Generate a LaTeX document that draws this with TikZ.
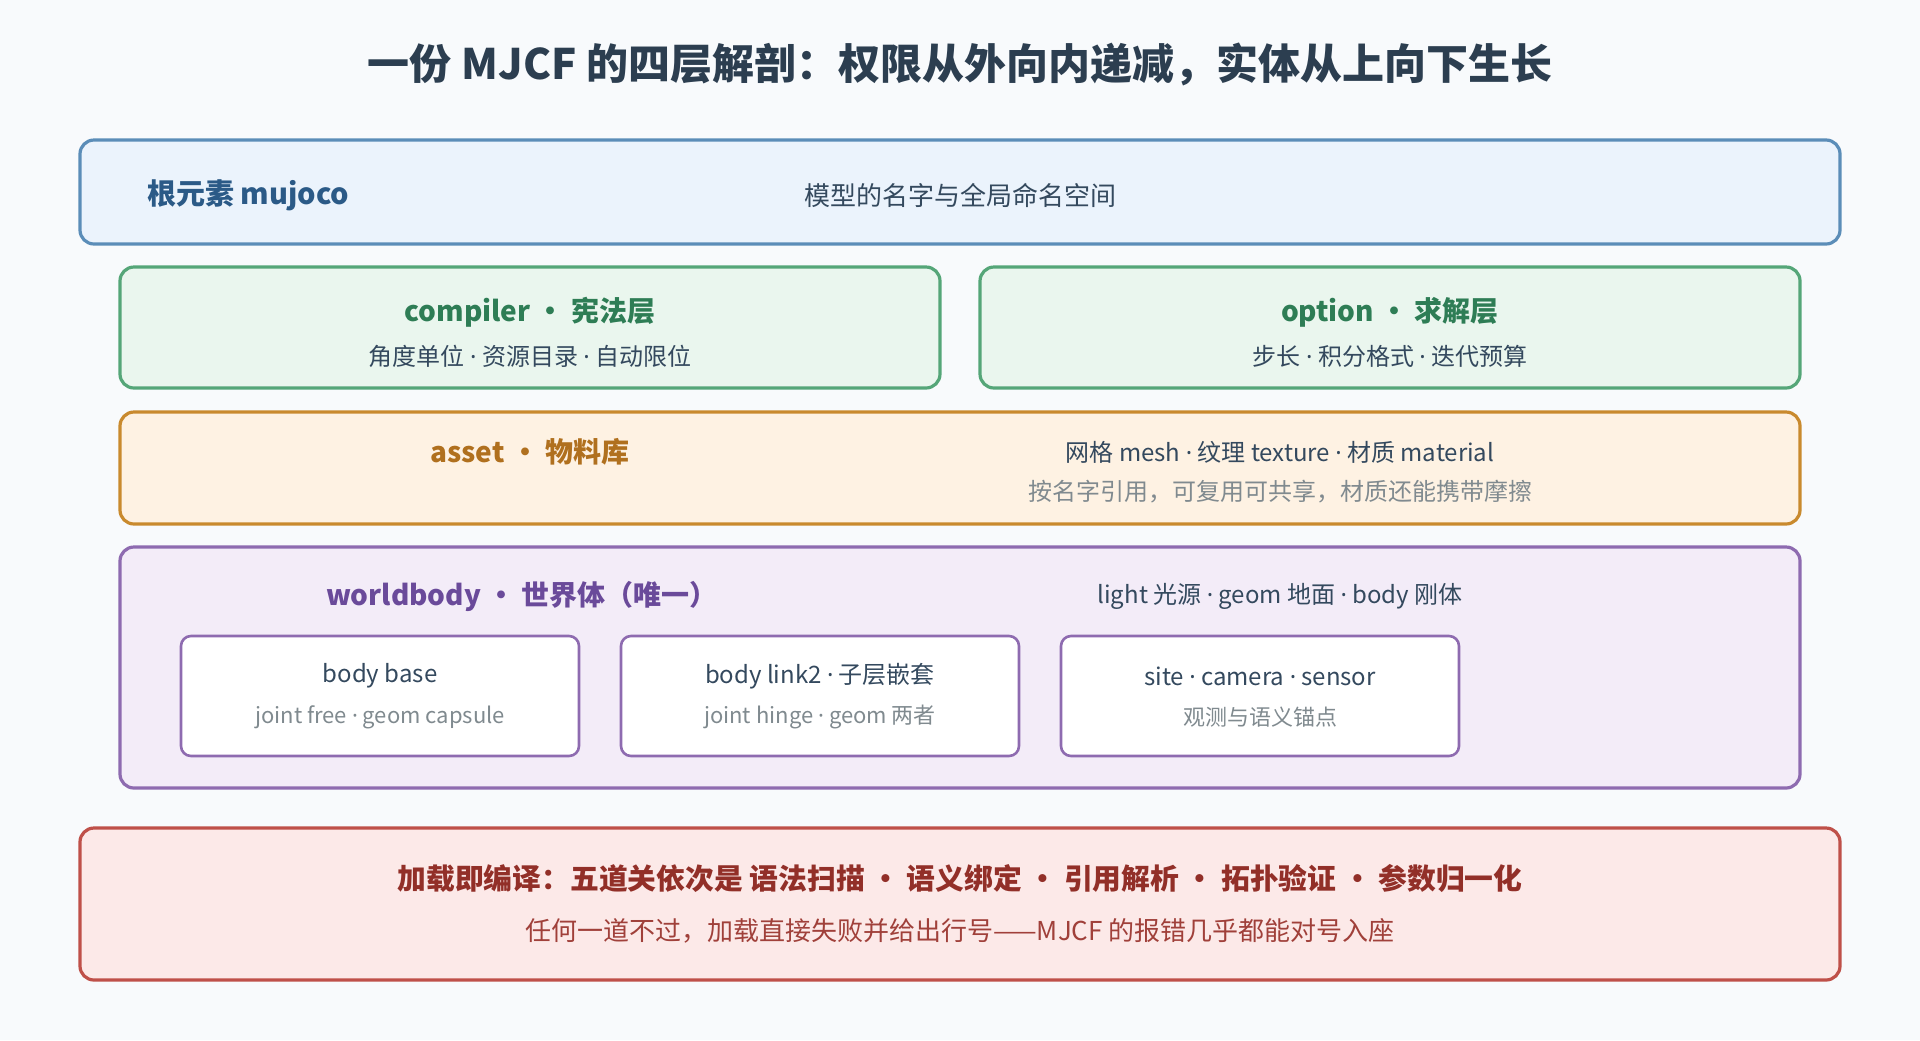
\documentclass[tikz,border=0pt]{standalone}
\usepackage{fontspec}
\usepackage{xcolor}
\usepackage{tikz}
\setmainfont{Noto Sans CJK SC}
\newfontfamily\latinfont{Noto Sans}
\newcommand{\mdot}{{\latinfont ·}}
\definecolor{bgc}{HTML}{F8FAFC}
\definecolor{titlec}{HTML}{2C3E50}
\definecolor{darktext}{HTML}{34495E}
\definecolor{graytext}{HTML}{808A8F}
\definecolor{rootfill}{HTML}{EBF3FC}
\definecolor{rootline}{HTML}{5B8DB8}
\definecolor{roottext}{HTML}{2B5A87}
\definecolor{greenfill}{HTML}{EAF6EE}
\definecolor{greenline}{HTML}{55A678}
\definecolor{greentext}{HTML}{2E7D55}
\definecolor{orangefill}{HTML}{FEF2E3}
\definecolor{orangeline}{HTML}{C98A2E}
\definecolor{orangetext}{HTML}{B0701E}
\definecolor{purplefill}{HTML}{F3ECF8}
\definecolor{purpleline}{HTML}{8E6BB0}
\definecolor{purpletext}{HTML}{6A4A9A}
\definecolor{redfill}{HTML}{FCE9E8}
\definecolor{redline}{HTML}{BF5049}
\definecolor{redtext}{HTML}{922F28}
\definecolor{redsub}{HTML}{A0403A}

\begin{document}
\begin{tikzpicture}[x=0.5pt,y=-0.5pt,
  layer/.style={draw,line width=1.6pt,rounded corners=7pt,inner sep=0pt},
  innerbox/.style={draw=purpleline,fill=white,line width=1.3pt,rounded corners=5pt,
    minimum width=199pt,minimum height=60pt,inner sep=0pt},
  head/.style={font=\bfseries\fontsize{14}{16}\selectfont},
  sub/.style={font=\fontsize{12}{14}\selectfont,text=darktext},
  note/.style={font=\fontsize{11}{13}\selectfont,text=graytext}]
  \fill[bgc] (0,0) rectangle (1920,1040);
  \node[font=\bfseries\fontsize{21}{24}\selectfont,text=titlec] (title) at (960,64) {一份 MJCF 的四层解剖：权限从外向内递减，实体从上向下生长};

  % root
  \node[layer,draw=rootline,fill=rootfill,minimum width=880pt,minimum height=52pt] (root) at (960,192) {};
  \node[anchor=west,font=\bfseries\fontsize{14.5}{16}\selectfont,text=roottext] (rootname) at (140,195) {根元素 mujoco};
  \node[font=\fontsize{13}{15}\selectfont,text=darktext] (rootdesc) at (960,195) {模型的名字与全局命名空间};

  % compiler / option
  \node[layer,draw=greenline,fill=greenfill,minimum width=410pt,minimum height=60.5pt] (compiler) at (530,327.5) {};
  \node[head,text=greentext] (compilername) at (530,312) {compiler • 宪法层};
  \node[sub] (compilerdesc) at (530,356) {角度单位 \mdot{} 资源目录 \mdot{} 自动限位};
  \node[layer,draw=greenline,fill=greenfill,minimum width=410pt,minimum height=60.5pt] (option) at (1390,327.5) {};
  \node[head,text=greentext] (optionname) at (1390,312) {option • 求解层};
  \node[sub] (optiondesc) at (1390,356) {步长 \mdot{} 积分格式 \mdot{} 迭代预算};

  % asset
  \node[layer,draw=orangeline,fill=orangefill,minimum width=840pt,minimum height=56pt] (asset) at (960,468) {};
  \node[head,text=orangetext] (assetname) at (530,452) {asset • 物料库};
  \node[sub] (assetdesc) at (1280,452) {网格 mesh \mdot{} 纹理 texture \mdot{} 材质 material};
  \node[note,font=\fontsize{12}{14}\selectfont] (assetnote) at (1280,492) {按名字引用，可复用可共享，材质还能携带摩擦};

  % worldbody
  \node[layer,draw=purpleline,fill=purplefill,minimum width=840pt,minimum height=120.5pt] (world) at (960,667.5) {};
  \node[head,text=purpletext] (worldname) at (522,596) {worldbody • 世界体（唯一）};
  \node[sub] (worlddesc) at (1280,596) {light 光源 \mdot{} geom 地面 \mdot{} body 刚体};

  \node[innerbox] (base) at (380,696) {};
  \node[sub] (basename) at (380,676) {body base};
  \node[note] (basedesc) at (380,717) {joint free \mdot{} geom capsule};
  \node[innerbox] (link) at (820,696) {};
  \node[sub] (linkname) at (820,676) {body link2 \mdot{} 子层嵌套};
  \node[note] (linkdesc) at (820,717) {joint hinge \mdot{} geom 两者};
  \node[innerbox] (site) at (1260,696) {};
  \node[sub] (sitename) at (1260,676) {site \mdot{} camera \mdot{} sensor};
  \node[note] (sitedesc) at (1260,717) {观测与语义锚点};

  % compile stage
  \node[layer,draw=redline,fill=redfill,minimum width=880pt,minimum height=76pt] (load) at (960,904) {};
  \node[head,font=\bfseries\fontsize{14.4}{16}\selectfont,text=redtext] (loadname) at (960,878) {加载即编译：五道关依次是 语法扫描 • 语义绑定 • 引用解析 • 拓扑验证 • 参数归一化};
  \node[font=\fontsize{13}{15}\selectfont,text=redsub] (loaddesc) at (960,931) {任何一道不过，加载直接失败并给出行号——MJCF 的报错几乎都能对号入座};
\end{tikzpicture}
\end{document}
